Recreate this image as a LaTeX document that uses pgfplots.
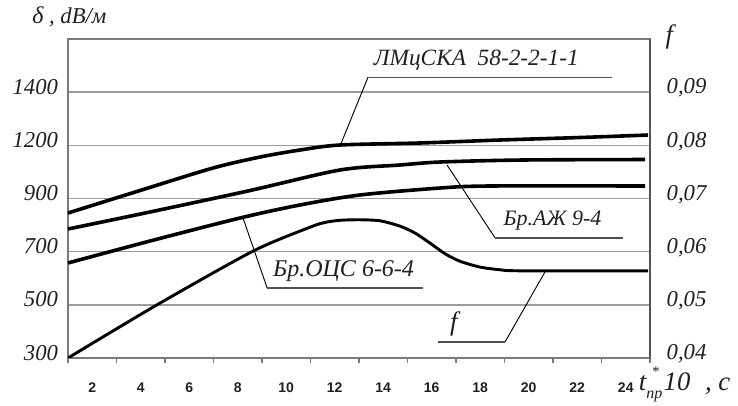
\documentclass[border=0pt]{standalone}
\usepackage{pgfplots}
\pgfplotsset{compat=1.18}
\usepackage{fontspec}
\setmainfont{Liberation Serif}
\newfontfamily\sansf{Liberation Sans}
\definecolor{gridc}{HTML}{9C9C9C}
\definecolor{axc}{HTML}{7A7A7A}
\definecolor{raxc}{HTML}{555555}
\definecolor{txt}{HTML}{1E1E26}
\definecolor{ulc}{HTML}{505050}

\pgfplotstableread{
x y
1.000 2.727
3.969 3.150
6.979 3.573
8.918 3.780
10.567 3.912
12.216 4.006
15.515 4.044
18.814 4.100
22.113 4.147
24.918 4.194
}\lmc
\pgfplotstableread{
x y
1.000 2.426
4.381 2.746
8.505 3.150
12.216 3.536
14.691 3.630
16.340 3.686
19.763 3.724
24.794 3.733
}\braz
\pgfplotstableread{
x y
1.000 1.787
4.381 2.200
8.093 2.633
10.567 2.878
13.041 3.066
16.340 3.197
18.402 3.235
24.794 3.235
}\brocs
\pgfplotstableread{
x f
1.00 0.0400
4.67 0.0500
8.63 0.0601
10.98 0.0646
11.60 0.0655
12.22 0.0659
13.04 0.0660
13.87 0.0658
14.69 0.0648
15.31 0.0635
15.93 0.0616
16.55 0.0596
17.16 0.0582
17.99 0.0571
18.81 0.0566
19.64 0.0564
24.92 0.0564
}\fdata

\begin{document}
\begin{tikzpicture}[x=1pt,y=1pt]
\path[use as bounding box] (0,0) rectangle (553.5,304.5);
\begin{axis}[
  at={(51pt,36pt)}, anchor=south west, scale only axis,
  width=436.5pt, height=239.25pt,
  xmin=1, xmax=25, ymin=0, ymax=6,
  axis line style={-, axc, line width=1.1pt},
  tick pos=left,
  xtick={3,5,...,25},
  xticklabels={2,4,6,8,10,12,14,16,18,20,22,24},
  extra x ticks={1}, extra x tick labels={},
  extra x tick style={grid=none},
  xtick align=outside,
  major tick length=4pt,
  every tick/.style={axc, line width=1pt},
  xticklabel style={font=\sansf\bfseries\fontsize{10.5}{10.5}\selectfont, text=txt, xshift=-18.19pt, yshift=-11pt},
  ytick={0,1,2,3,4,5,6},
  yticklabels={300,500,700,900,1200,1400,{}},
  ytick style={draw=none},
  yticklabel style={font=\itshape\fontsize{17}{17}\selectfont, text=txt, xshift=-4pt, yshift=4pt},
  ymajorgrids, grid style={gridc, line width=1.1pt},
  clip=false,
]
\addplot[black, line width=2.7pt, smooth, tension=0.5] table[x=x,y=y] {\lmc};
\addplot[black, line width=2.7pt, smooth, tension=0.5] table[x=x,y=y] {\braz};
\addplot[black, line width=2.7pt, smooth, tension=0.5] table[x=x,y=y] {\brocs};
% annotations
\draw[black, line width=0.7pt] (axis cs:12.22,3.99) -- (axis cs:13.37,5.28);
\draw[ulc, line width=1.1pt] (axis cs:13.37,5.28) -- (axis cs:23.43,5.28);
\node[anchor=base west, font=\itshape\fontsize{17.5}{17.5}\selectfont, text=txt, inner sep=0pt] at (axis cs:13.6,5.495) {ЛМцСКА\ \ 58-2-2-1-1};
\draw[black, line width=0.7pt] (axis cs:16.63,3.63) -- (axis cs:18.61,2.26);
\draw[ulc, line width=1.1pt] (axis cs:18.61,2.26) -- (axis cs:23.89,2.26);
\node[anchor=base west, font=\itshape\fontsize{16.5}{16.5}\selectfont, text=txt, inner sep=0pt] at (axis cs:18.95,2.50) {Бр.АЖ 9-4};
\draw[black, line width=0.7pt] (axis cs:8.22,2.63) -- (axis cs:9.21,1.32);
\draw[ulc, line width=1.1pt] (axis cs:9.21,1.32) -- (axis cs:15.64,1.32);
\node[anchor=base west, font=\itshape\fontsize{18}{18}\selectfont, text=txt, inner sep=0pt] at (axis cs:9.45,1.53) {Бр.ОЦС 6-6-4};
\draw[black, line width=0.7pt] (axis cs:20.67,1.62) -- (axis cs:19.02,0.30);
\draw[ulc, line width=1.1pt] (axis cs:19.02,0.30) -- (axis cs:16.26,0.30);
\node[anchor=west, font=\itshape\fontsize{20}{20}\selectfont, text=txt, inner sep=0pt] at (axis cs:16.75,0.64) {f};
\end{axis}
\begin{axis}[
  at={(51pt,36pt)}, anchor=south west, scale only axis,
  width=436.5pt, height=239.25pt,
  xmin=1, xmax=25, ymin=0.04, ymax=0.10,
  axis x line=none, axis y line*=right,
  axis line style={-, raxc, line width=1.5pt},
  ytick={0.04,0.05,0.06,0.07,0.08,0.09},
  ytick style={draw=none},
  /pgf/number format/.cd, fixed, fixed zerofill, precision=2, use comma, assume math mode=true,
  /pgfplots/.cd,
  yticklabel style={font=\itshape\fontsize{17}{17}\selectfont, text=txt, xshift=9pt, yshift=3pt},
]
\addplot[black, line width=2.2pt, smooth, tension=0.45] table[x=x,y=f] {\fdata};
\end{axis}
\node[anchor=base west, text=txt, inner sep=0pt] at (24,287) {\itshape\fontsize{18}{18}\selectfont δ\fontsize{17}{17}\selectfont\ , dB/м};
\node[text=txt, inner sep=0pt, font=\itshape\fontsize{20}{20}\selectfont] at (502,276.75) {f};
\node[anchor=base west, text=txt, inner sep=0pt, font=\itshape\fontsize{20}{20}\selectfont] at (479,11.25) {t\rlap{\kern4pt\raisebox{1.15ex}{\fontsize{11}{11}\selectfont *}}\raisebox{-0.6ex}{\fontsize{12}{12}\selectfont пр}\kern1pt 10\hspace{0.55em}, с};
\end{tikzpicture}
\end{document}
